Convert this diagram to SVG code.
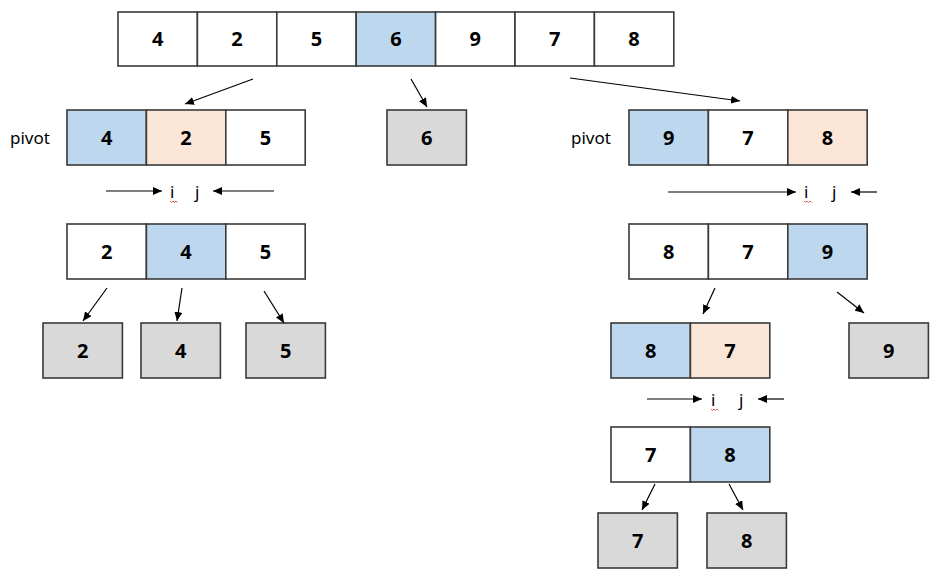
<svg xmlns="http://www.w3.org/2000/svg" width="940" height="582" viewBox="0 0 940 582">
<defs>
<marker id="ah" markerWidth="9" markerHeight="8" refX="9" refY="4" orient="auto" markerUnits="userSpaceOnUse"><path d="M0,0 L9,4 L0,8 z" fill="#000"/></marker>
<style>
.c{stroke:#3a3a3a;stroke-width:1.6}
.w{fill:#fff}.b{fill:#BDD7EE}.p{fill:#FBE5D6}.g{fill:#D9D9D9}
.n{font-family:"Noto Sans","Liberation Sans",sans-serif;font-weight:bold;font-size:20px;text-anchor:middle;fill:#000}
.t{font-family:"Noto Sans","Liberation Sans",sans-serif;font-size:17px;fill:#000}
.a{stroke:#000;stroke-width:1.2;fill:none;marker-end:url(#ah)}
.sq{stroke:#e03030;stroke-width:0.8;fill:none}
</style>
</defs>
<rect width="940" height="582" fill="#fff"/>

<g id="top">
<rect class="c w" x="118" y="12" width="79.4" height="54"/><text class="n" x="157.7" y="46">4</text>
<rect class="c w" x="197.4" y="12" width="79.4" height="54"/><text class="n" x="237.1" y="46">2</text>
<rect class="c w" x="276.8" y="12" width="79.4" height="54"/><text class="n" x="316.5" y="46">5</text>
<rect class="c b" x="356.2" y="12" width="79.4" height="54"/><text class="n" x="395.9" y="46">6</text>
<rect class="c w" x="435.6" y="12" width="79.4" height="54"/><text class="n" x="475.3" y="46">9</text>
<rect class="c w" x="515" y="12" width="79.4" height="54"/><text class="n" x="554.7" y="46">7</text>
<rect class="c w" x="594.4" y="12" width="79.4" height="54"/><text class="n" x="634.1" y="46">8</text>
</g>

<g id="left1">
<text class="t" x="10" y="144">pivot</text>
<rect class="c b" x="67" y="110" width="79.4" height="55"/><text class="n" x="106.7" y="144.5">4</text>
<rect class="c p" x="146.4" y="110" width="79.4" height="55"/><text class="n" x="186.1" y="144.5">2</text>
<rect class="c w" x="225.8" y="110" width="79.4" height="55"/><text class="n" x="265.5" y="144.5">5</text>
</g>

<g id="six">
<rect class="c g" x="387" y="110" width="79.4" height="55"/><text class="n" x="426.7" y="144.5">6</text>
</g>

<g id="right1">
<text class="t" x="571" y="144">pivot</text>
<rect class="c b" x="629" y="110" width="79.4" height="55"/><text class="n" x="668.7" y="144.5">9</text>
<rect class="c w" x="708.4" y="110" width="79.4" height="55"/><text class="n" x="748.1" y="144.5">7</text>
<rect class="c p" x="787.8" y="110" width="79.4" height="55"/><text class="n" x="827.5" y="144.5">8</text>
</g>

<g id="ij-left">
<text class="t" x="170" y="198">i</text><text class="t" x="195" y="198">j</text>
<path class="sq" d="M170,201 l1.5,1.5 l1.5,-1.5 l1.5,1.5 l1.5,-1.5 l1.5,1.5"/>
</g>
<g id="ij-right">
<text class="t" x="804" y="198">i</text><text class="t" x="832" y="198">j</text>
<path class="sq" d="M804,201 l1.5,1.5 l1.5,-1.5 l1.5,1.5 l1.5,-1.5 l1.5,1.5"/>
</g>

<g id="left2">
<rect class="c w" x="67" y="224" width="79.4" height="55"/><text class="n" x="106.7" y="258.5">2</text>
<rect class="c b" x="146.4" y="224" width="79.4" height="55"/><text class="n" x="186.1" y="258.5">4</text>
<rect class="c w" x="225.8" y="224" width="79.4" height="55"/><text class="n" x="265.5" y="258.5">5</text>
</g>

<g id="right2">
<rect class="c w" x="629" y="224" width="79.4" height="55"/><text class="n" x="668.7" y="258.5">8</text>
<rect class="c w" x="708.4" y="224" width="79.4" height="55"/><text class="n" x="748.1" y="258.5">7</text>
<rect class="c b" x="787.8" y="224" width="79.4" height="55"/><text class="n" x="827.5" y="258.5">9</text>
</g>

<g id="leaf2"><rect class="c g" x="43" y="323" width="79.4" height="55"/><text class="n" x="82.7" y="357.5">2</text></g>
<g id="leaf4"><rect class="c g" x="141" y="323" width="79.4" height="55"/><text class="n" x="180.7" y="357.5">4</text></g>
<g id="leaf5"><rect class="c g" x="246" y="323" width="79.4" height="55"/><text class="n" x="285.7" y="357.5">5</text></g>

<g id="r87">
<rect class="c b" x="611" y="323" width="79.4" height="55"/><text class="n" x="650.7" y="357.5">8</text>
<rect class="c p" x="690.4" y="323" width="79.4" height="55"/><text class="n" x="730.1" y="357.5">7</text>
</g>
<g id="leaf9"><rect class="c g" x="849" y="323" width="79.4" height="55"/><text class="n" x="888.7" y="357.5">9</text></g>

<g id="ij-bottom">
<text class="t" x="711" y="406">i</text><text class="t" x="739" y="406">j</text>
<path class="sq" d="M711,409 l1.5,1.5 l1.5,-1.5 l1.5,1.5 l1.5,-1.5 l1.5,1.5"/>
</g>

<g id="r78">
<rect class="c w" x="611" y="427" width="79.4" height="55"/><text class="n" x="650.7" y="461.5">7</text>
<rect class="c b" x="690.4" y="427" width="79.4" height="55"/><text class="n" x="730.1" y="461.5">8</text>
</g>

<g id="leaf7"><rect class="c g" x="598" y="513" width="79.4" height="55"/><text class="n" x="637.7" y="547.5">7</text></g>
<g id="leaf8"><rect class="c g" x="707" y="513" width="79.4" height="55"/><text class="n" x="746.7" y="547.5">8</text></g>

<g id="connectors">
<line class="a" x1="253" y1="79" x2="185" y2="104"/>
<line class="a" x1="411" y1="79" x2="427" y2="107"/>
<line class="a" x1="570" y1="78" x2="740" y2="101"/>
<line class="a" x1="106" y1="191" x2="162" y2="191"/>
<line class="a" x1="274" y1="191" x2="213" y2="191"/>
<line class="a" x1="668" y1="192" x2="796" y2="192"/>
<line class="a" x1="877" y1="192" x2="851" y2="192"/>
<line class="a" x1="107" y1="288" x2="83" y2="321"/>
<line class="a" x1="182" y1="288" x2="177" y2="321"/>
<line class="a" x1="264" y1="291" x2="284" y2="323"/>
<line class="a" x1="715" y1="288" x2="703" y2="314"/>
<line class="a" x1="837" y1="292" x2="864" y2="313"/>
<line class="a" x1="647" y1="399" x2="702" y2="399"/>
<line class="a" x1="784" y1="399" x2="758" y2="399"/>
<line class="a" x1="655" y1="484" x2="642" y2="510"/>
<line class="a" x1="729" y1="484" x2="743" y2="510"/>
</g>
</svg>
